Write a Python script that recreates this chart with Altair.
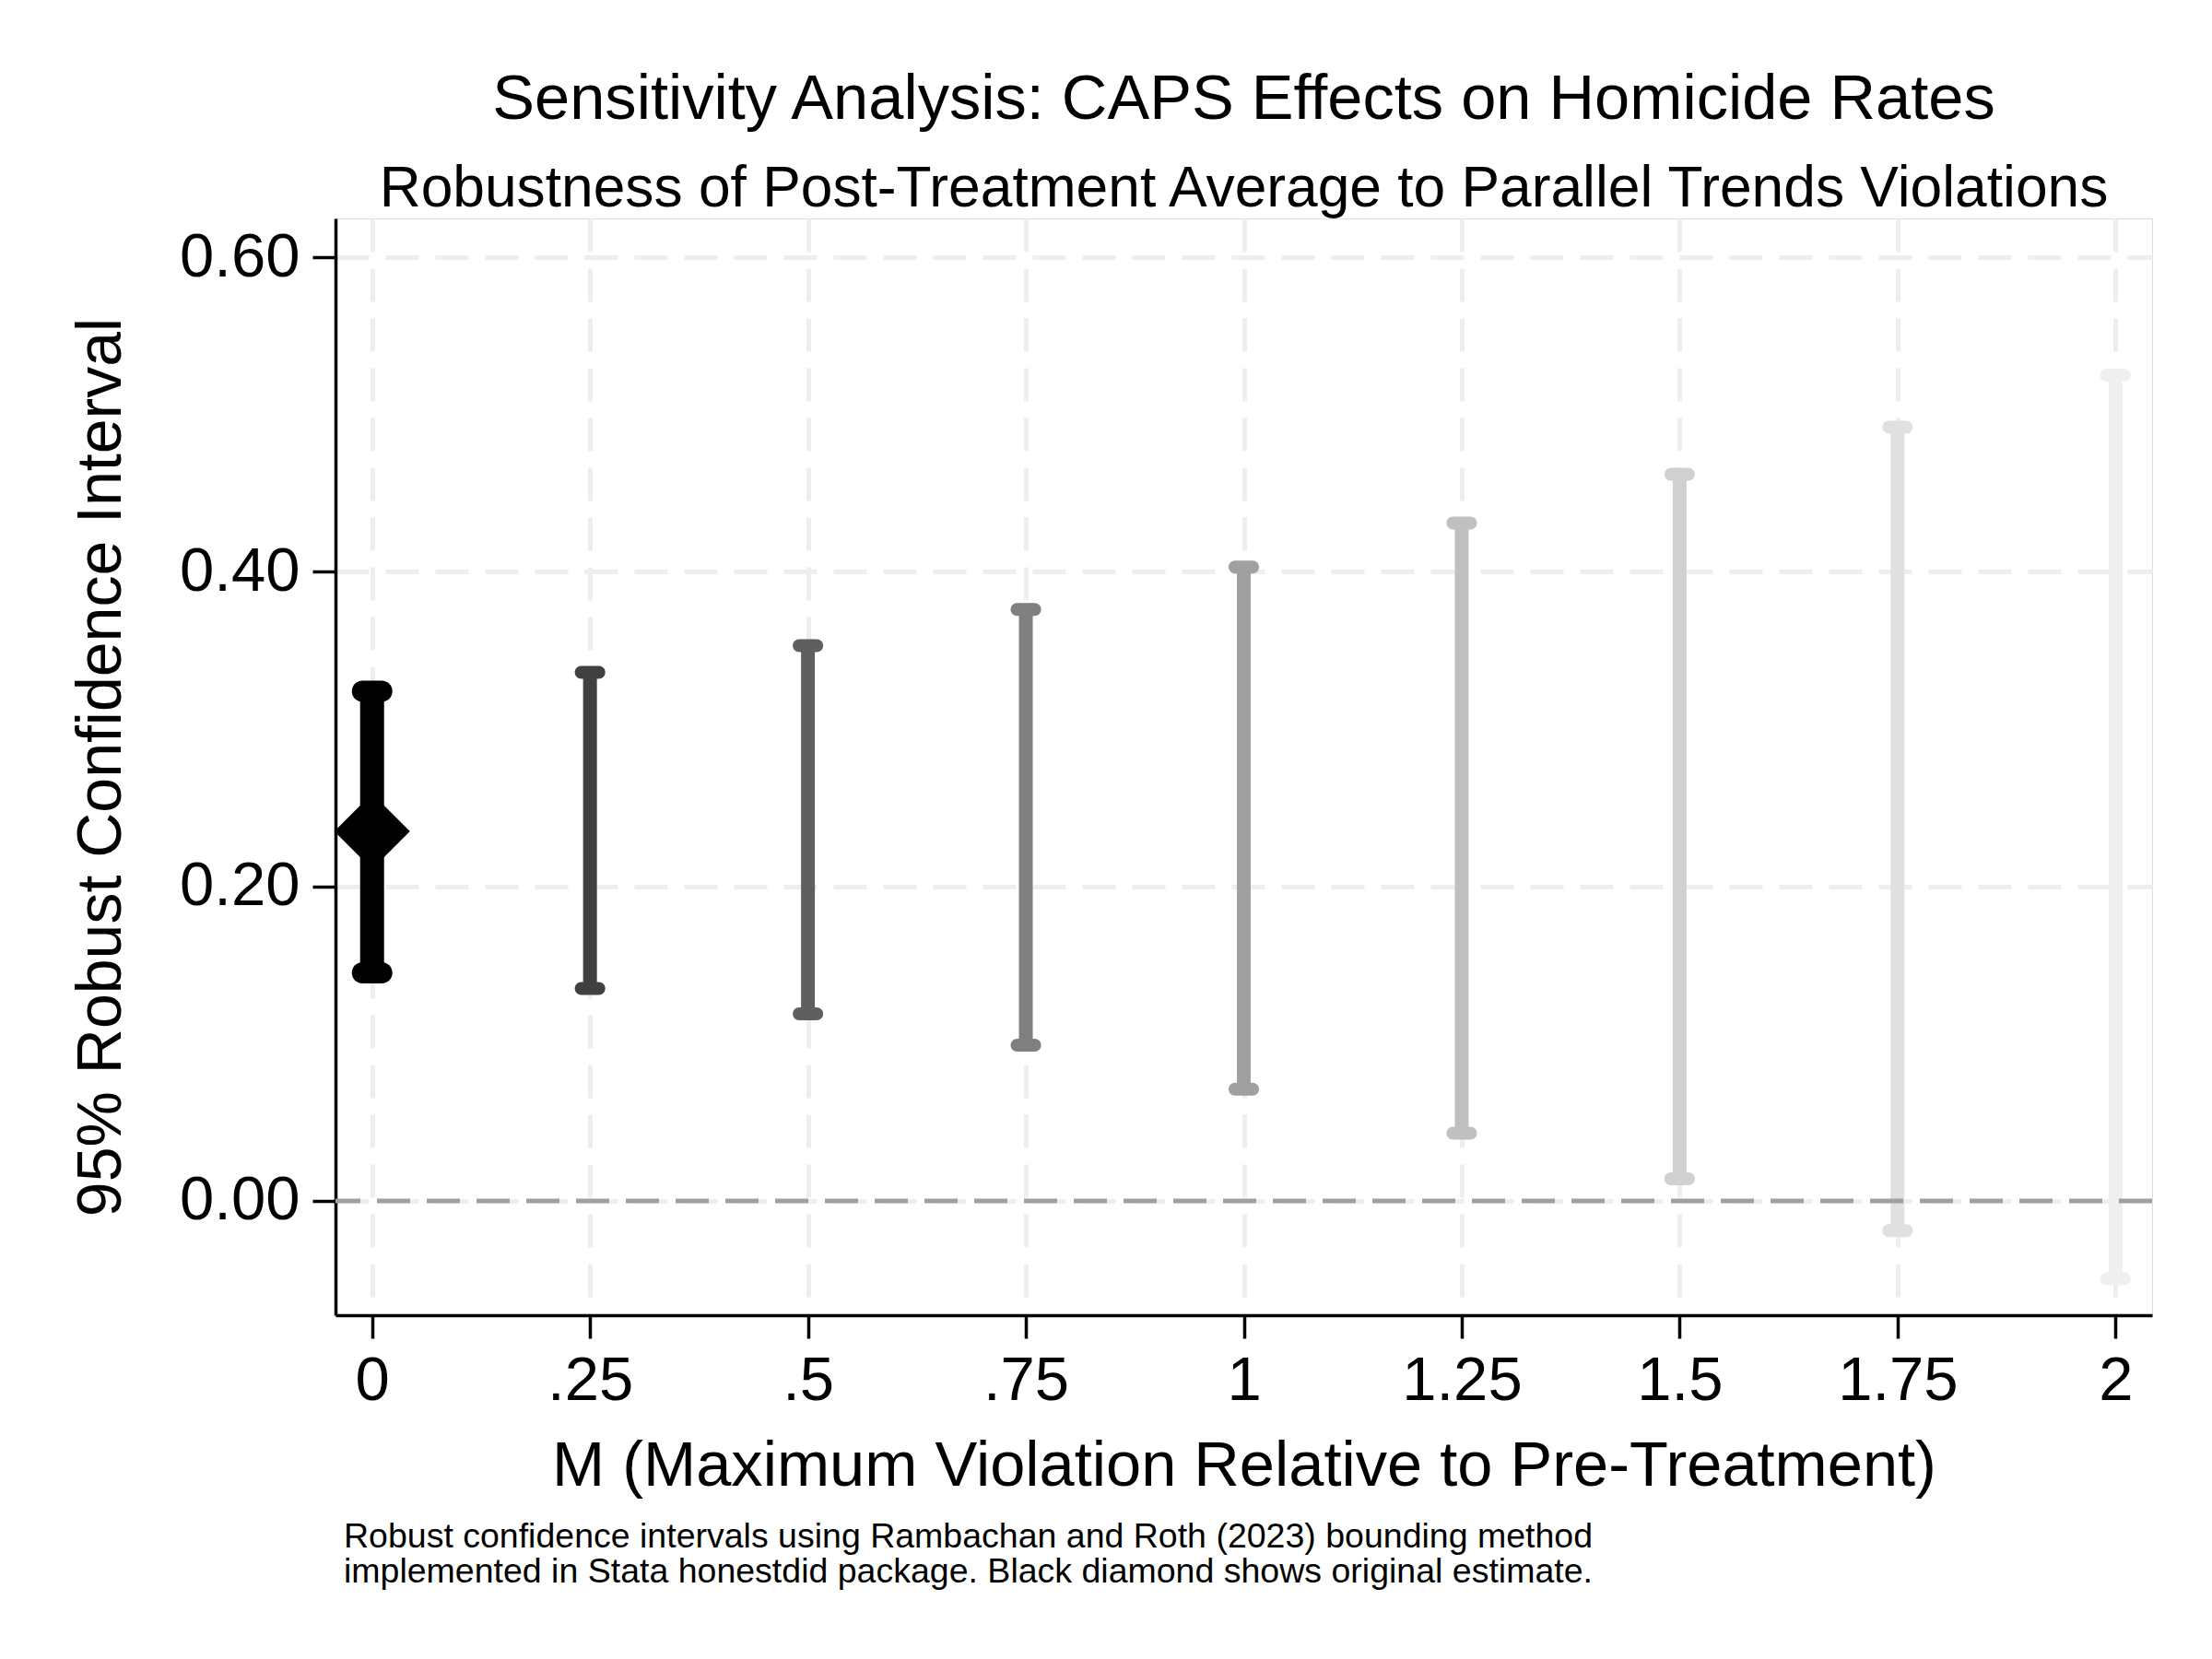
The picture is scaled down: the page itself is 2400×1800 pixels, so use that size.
import altair as alt
import pandas as pd

# ---------------- data ----------------
M_VALUES = [0.0, 0.25, 0.5, 0.75, 1.0, 1.25, 1.5, 1.75, 2.0]
CI_LOWER = [0.145, 0.135, 0.119, 0.099, 0.071, 0.043, 0.014, -0.019, -0.0495]
CI_UPPER = [0.324, 0.336, 0.353, 0.376, 0.403, 0.431, 0.462, 0.492, 0.525]
ORIGINAL_M = [0.0]
ORIGINAL_ESTIMATE = [0.235]

X_TICKS = [0.0, 0.25, 0.5, 0.75, 1.0, 1.25, 1.5, 1.75, 2.0]
X_TICK_LABELS = ["0", ".25", ".5", ".75", "1", "1.25", "1.5", "1.75", "2"]
Y_TICKS = [0.0, 0.2, 0.4, 0.6]
ZERO_LINE = [0.0]

TITLE = "Sensitivity Analysis: CAPS Effects on Homicide Rates"
SUBTITLE = "Robustness of Post-Treatment Average to Parallel Trends Violations"
X_TITLE = "M (Maximum Violation Relative to Pre-Treatment)"
Y_TITLE = "95% Robust Confidence Interval"
FOOTNOTE = [
    "Robust confidence intervals using Rambachan and Roth (2023) bounding method",
    "implemented in Stata honestdid package. Black diamond shows original estimate.",
]

# ---------------- styles ----------------
FONT = "Liberation Sans"
GRAYS = ["#000000", "#404040", "#5f5f5f", "#808080", "#a0a0a0",
         "#c0c0c0", "#d0d0d0", "#e0e0e0", "#efefef"]
GRID_COLOR = "#eeeeee"
DASH = [36, 18]

df = pd.DataFrame({"M": M_VALUES, "lower": CI_LOWER, "upper": CI_UPPER})
df_est = pd.DataFrame({"M": ORIGINAL_M, "estimate": ORIGINAL_ESTIMATE})
df_zero = pd.DataFrame({"zero": ZERO_LINE})
df_note = pd.DataFrame({"note": ["\n".join(FOOTNOTE)]})

x_scale = alt.Scale(domain=[-0.042, 2.042], nice=False, zero=False)
y_scale = alt.Scale(domain=[-0.0727, 0.6247], nice=False, zero=False)

labels_js = "[" + ",".join("'%s'" % s for s in X_TICK_LABELS) + "]"
ticks_js = "[" + ",".join(repr(v) for v in X_TICKS) + "]"

x_axis = alt.Axis(
    values=X_TICKS,
    labelExpr=f"{labels_js}[indexof({ticks_js}, datum.value)]",
    title=X_TITLE,
    grid=True, gridColor=GRID_COLOR, gridWidth=5, gridDash=DASH,
    domainColor="black", domainWidth=3.5,
    tickColor="black", tickWidth=3.5, tickSize=25,
    labelFont=FONT, labelFontSize=67, labelColor="black",
    labelPadding=66, labelBaseline="alphabetic",
    labelFlush=False, labelOverlap=False,
    titleFont=FONT, titleFontSize=68.6, titleFontWeight="normal", titleColor="black",
    titleX=985.5, titleY=184.7, titleBaseline="alphabetic", titleAlign="center",
)
y_axis = alt.Axis(
    values=Y_TICKS, format=".2f",
    title=Y_TITLE,
    grid=True, gridColor=GRID_COLOR, gridWidth=5, gridDash=DASH,
    domainColor="black", domainWidth=3.5,
    tickColor="black", tickWidth=3.5, tickSize=25,
    labelFont=FONT, labelFontSize=67, labelColor="black",
    labelPadding=14, labelBaseline="middle",
    labelFlush=False, labelOverlap=False,
    titleFont=FONT, titleFontSize=68, titleFontWeight="normal", titleColor="black",
    titleX=-234, titleY=595, titleAngle=270,
    titleBaseline="alphabetic", titleAlign="center",
)

color = alt.Color("M:O", scale=alt.Scale(domain=M_VALUES, range=GRAYS), legend=None)
X = alt.X("M:Q", scale=x_scale, axis=x_axis)

base = alt.Chart(df)

bars_rest = base.transform_filter(alt.datum.M > 0).mark_rule(
    strokeWidth=15, strokeCap="butt"
).encode(
    x=X,
    y=alt.Y("lower:Q", scale=y_scale, axis=y_axis),
    y2="upper:Q",
    color=color,
)
bar_orig = base.transform_filter(alt.datum.M == 0).mark_rule(
    strokeWidth=26, strokeCap="butt"
).encode(
    x=X,
    y=alt.Y("lower:Q", scale=y_scale, axis=y_axis),
    y2="upper:Q",
    color=color,
)

caps_rest = base.transform_filter(alt.datum.M > 0).transform_fold(
    ["lower", "upper"], as_=["end", "value"]
).mark_tick(orient="horizontal", size=33, thickness=14, cornerRadius=7, opacity=1).encode(
    x=X,
    y=alt.Y("value:Q", scale=y_scale, axis=y_axis),
    color=color,
)
caps_orig = base.transform_filter(alt.datum.M == 0).transform_fold(
    ["lower", "upper"], as_=["end", "value"]
).mark_tick(orient="horizontal", size=44, thickness=23, cornerRadius=11.5, opacity=1).encode(
    x=X,
    y=alt.Y("value:Q", scale=y_scale, axis=y_axis),
    color=color,
)

zero_rule = alt.Chart(df_zero).mark_rule(
    color="#a0a0a0", strokeWidth=5, strokeDash=DASH
).encode(y=alt.Y("zero:Q", scale=y_scale, axis=y_axis))

diamond = alt.Chart(df_est).mark_point(
    shape="diamond", filled=True, size=6724, color="black", opacity=1, strokeWidth=0
).encode(
    x=X,
    y=alt.Y("estimate:Q", scale=y_scale, axis=y_axis),
)

note = alt.Chart(df_note).mark_text(
    align="left", baseline="alphabetic", font=FONT, fontSize=37.5,
    color="black", lineBreak="\n", lineHeight=38,
).encode(text="note:N", x=alt.value(9), y=alt.value(1442))

chart = alt.layer(
    bars_rest, bar_orig, caps_rest, caps_orig, zero_rule, diamond, note
).properties(
    width=1971,
    height=1190,
    autosize=alt.AutoSizeParams(type="none"),
    padding={"left": 356, "top": 229, "right": 40, "bottom": 360},
    background="white",
    title=alt.Title(
        text=TITLE, subtitle=SUBTITLE,
        font=FONT, subtitleFont=FONT,
        fontSize=68.6, subtitleFontSize=62.3,
        fontWeight="normal", subtitleFontWeight="normal",
        color="black", subtitleColor="black",
        anchor="middle", frame="group", offset=0, subtitlePadding=31,
    ),
).configure_view(strokeWidth=0).configure(font=FONT)

chart.save("out.html", embed_options={"renderer": "svg", "actions": False})
